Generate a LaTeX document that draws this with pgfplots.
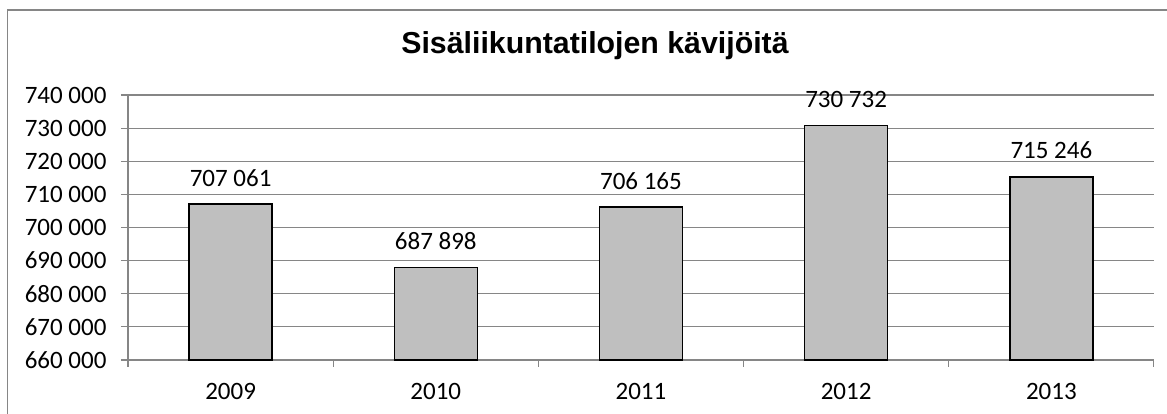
\documentclass[border=0pt]{standalone}
\usepackage{pgfplots}
\pgfplotsset{compat=1.18}
\usepackage{fontspec}
\setmainfont{Carlito}
\newfontfamily\titlefont{Liberation Sans}
\definecolor{gridgray}{RGB}{134,134,134}
\definecolor{barfill}{RGB}{191,191,191}
\begin{document}
\begin{tikzpicture}
\useasboundingbox (0pt,0pt) rectangle (1167pt,414pt);
\draw[gridgray, line width=1.5pt] (7.5pt,0pt) -- (7.5pt,404pt) -- (1167pt,404pt);
\node[font=\titlefont\bfseries\fontsize{30.3pt}{35pt}\selectfont] at (595pt,368pt) {Sisäliikuntatilojen kävijöitä};
\begin{axis}[
  at={(128pt,54pt)}, anchor=south west,
  scale only axis, width=1026pt, height=265pt,
  ymin=660000, ymax=740000, ytick={660000,670000,680000,690000,700000,710000,720000,730000,740000},
  yticklabels={660 000,670 000,680 000,690 000,700 000,710 000,720 000,730 000,740 000},
  xmin=-0.5, xmax=4.5,
  xtick={0,1,2,3,4}, xticklabels={2009,2010,2011,2012,2013},
  minor xtick={-0.5,0.5,1.5,2.5,3.5,4.5},
  axis x line*=bottom, axis y line*=left,
  axis line style={gridgray, line width=1.1pt, -},
  tick align=outside,
  major tick length=7pt, minor tick length=7pt,
  every tick/.style={gridgray, line width=1.1pt},
  major x tick style={draw=none},
  ymajorgrids, grid style={gridgray, line width=1.1pt},
  scaled y ticks=false,
  tick label style={font=\fontsize{25pt}{29pt}\selectfont, text=black},
  yticklabel style={xshift=-11pt},
  xticklabel style={yshift=-13pt},
  ybar, bar width=83pt,
  point meta=explicit symbolic,
  nodes near coords,
  nodes near coords style={font=\fontsize{25pt}{29pt}\selectfont, anchor=base, inner sep=0pt, yshift=18pt, text=black},
  clip=false,
]
\addplot[fill=barfill, draw=black, line width=1.5pt] coordinates {(0,707061) [707 061] (1,687898) [687 898] (2,706165) [706 165] (3,730732) [730 732] (4,715246) [715 246]};
\end{axis}
\end{tikzpicture}
\end{document}
